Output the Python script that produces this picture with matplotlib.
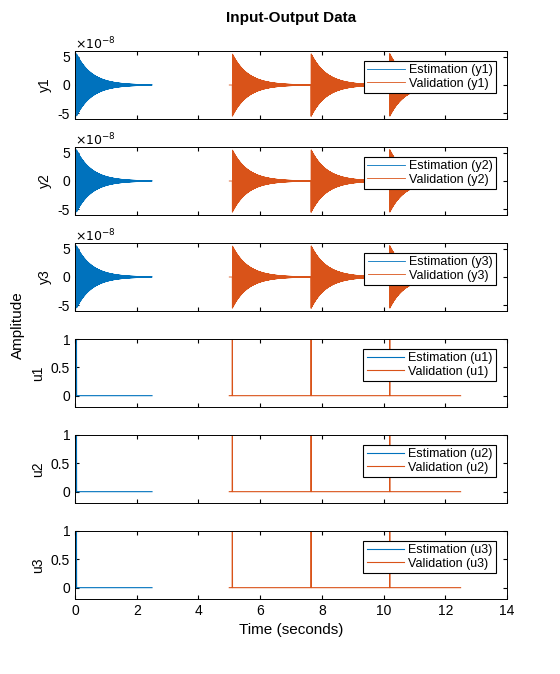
import numpy as np
import matplotlib
matplotlib.use("Agg")
import matplotlib.pyplot as plt

plt.rcParams['font.family'] = ['Liberation Sans', 'DejaVu Sans']

# Data
est_range = [0.0, 2.5]          # estimation time span (s)
val_range = [5.0, 12.5]         # validation time span (s)
est_impulses = [0.05]           # impulse times in estimation inputs
val_impulses = [5.1, 7.65, 10.2]  # impulse times in validation inputs
peak_amp = 5.5e-8               # peak output amplitude
decay_tau = 0.5                 # envelope decay time constant (s)
sample_time = 0.004
out_names = ['y1', 'y2', 'y3']
in_names = ['u1', 'u2', 'u3']

c_est = '#0072BD'
c_val = '#D95319'

def make_signals(rng, imps):
    t = np.arange(rng[0], rng[1], sample_time)
    u = np.zeros_like(t)
    y = np.zeros_like(t)
    sign = np.where(np.arange(len(t)) % 2 == 0, 1.0, -1.0)
    for ti in imps:
        k = np.argmin(np.abs(t - ti))
        u[k] = 1.0
        m = t >= t[k]
        y[m] += peak_amp * np.exp(-(t[m] - t[k]) / decay_tau) * sign[m]
    return t, u, y

te, ue, ye = make_signals(est_range, est_impulses)
tv, uv, yv = make_signals(val_range, val_impulses)

fig = plt.figure(figsize=(5.6, 6.74), dpi=100)
W, H = 560, 674
tops = [51, 147, 243, 339, 435, 531]
axes = []
for i, top in enumerate(tops):
    ax = fig.add_axes([75 / W, 1 - (top + 68) / H, 432 / W, 68 / H])
    axes.append(ax)
    if i < 3:
        ax.plot(te, ye, color=c_est, lw=0.6, label=f'Estimation ({out_names[i]})')
        ax.plot(tv, yv, color=c_val, lw=0.6, label=f'Validation ({out_names[i]})')
        ax.set_ylim(-6e-8, 6e-8)
        ax.set_yticks([-5e-8, 0, 5e-8])
        ax.set_yticklabels(['-5', '0', '5'])
        ax.text(0, 1.02, r'$\times 10^{-8}$', transform=ax.transAxes, fontsize=9)
        ax.set_ylabel(out_names[i], fontsize=10)
    else:
        n = in_names[i - 3]
        ax.plot(te, ue, color=c_est, lw=0.8, label=f'Estimation ({n})')
        ax.plot(tv, uv, color=c_val, lw=0.8, label=f'Validation ({n})')
        ax.set_ylim(-0.2, 1.0)
        ax.set_yticks([0, 0.5, 1])
        ax.set_yticklabels(['0', '0.5', '1'])
        ax.set_ylabel(n, fontsize=10)
    ax.set_xlim(0, 14)
    ax.set_xticks(np.arange(0, 15, 2))
    ax.tick_params(direction='in', top=True, right=True, labelsize=10, length=3)
    if i < 5:
        ax.set_xticklabels([])
    leg = ax.legend(loc='upper right', fontsize=9, frameon=True, fancybox=False,
                    edgecolor='black', framealpha=1, borderpad=0.3, labelspacing=0.1,
                    handlelength=3.0, handletextpad=0.3, borderaxespad=0,
                    bbox_to_anchor=(0.975, 0.86))
    leg.get_frame().set_linewidth(0.8)
    for s in ax.spines.values():
        s.set_linewidth(0.7)

axes[-1].set_xlabel('Time (seconds)', fontsize=11)
fig.text(291 / W, 1 - 18 / H, 'Input-Output Data', ha='center', va='center',
         fontsize=11, fontweight='bold')
fig.text(18 / W, 1 - 325 / H, 'Amplitude', rotation=90, ha='center', va='center', fontsize=11)
fig.savefig('out.png', dpi=100)
